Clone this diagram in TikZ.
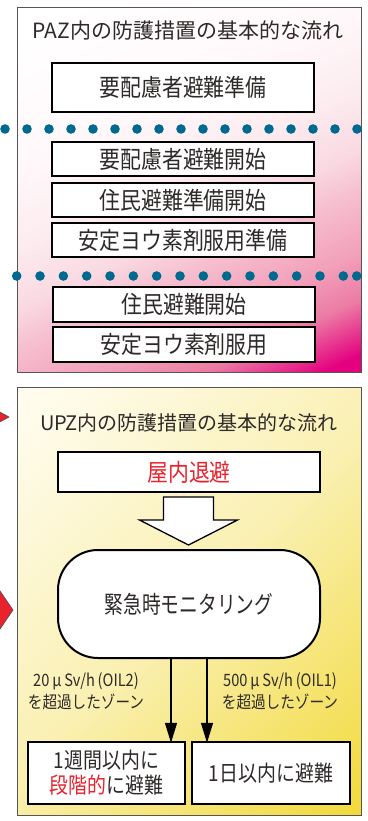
\documentclass[tikz,border=0pt]{standalone}
\usepackage{fontspec}
\newfontfamily\jp{Noto Sans CJK JP}
\newfontfamily\jpn[FakeStretch=0.87]{Noto Sans CJK JP}
\newfontfamily\jpm[FakeStretch=0.78]{Noto Sans CJK JP}
\newfontfamily\jpb[FakeStretch=0.86]{Noto Sans CJK JP}
\newfontfamily\jpl[FakeStretch=0.86]{Noto Sans CJK JP}
\usetikzlibrary{arrows.meta}
\definecolor{ink}{HTML}{2E2A29}
\definecolor{frame}{HTML}{555555}
\definecolor{dotblue}{HTML}{00698F}
\definecolor{alert}{HTML}{E8232E}
\definecolor{pazW}{HTML}{FFF8FA}
\definecolor{pazA}{HTML}{FCECF0}
\definecolor{pazL2}{HTML}{F9D9E2}
\definecolor{pazL}{HTML}{F6C0D0}
\definecolor{pazB}{HTML}{F2A0BA}
\definecolor{pazD}{HTML}{EC7BA4}
\definecolor{pazC}{HTML}{E4007F}
\definecolor{upzA}{HTML}{FFFDF2}
\definecolor{upzB}{HTML}{FAF0B2}
\definecolor{upzC}{HTML}{F2DA3C}
\pgfdeclareverticalshading{pazshade}{100bp}{color(0bp)=(pazC); color(19bp)=(pazC); color(26bp)=(pazD); color(32bp)=(pazB); color(40bp)=(pazL); color(45bp)=(pazL2); color(53bp)=(pazA); color(63bp)=(pazW); color(80bp)=(white); color(100bp)=(white)}
\pgfdeclareverticalshading{upzshade}{100bp}{color(0bp)=(upzC); color(15bp)=(upzC); color(50bp)=(upzB); color(85bp)=(upzA); color(100bp)=(upzA)}
\tikzset{
  zone/.style={draw=frame, line width=1pt},
  title/.style={text=ink, inner sep=0pt, font=\jp\fontsize{21pt}{21pt}\selectfont},
  box/.style={draw=black, line width=2.4pt, fill=white, text=ink, inner sep=0pt, minimum width=262pt, font=\jpn\fontsize{24pt}{26pt}\selectfont},
  lowbox/.style={draw=black, line width=2.4pt, fill=white, text=ink, inner sep=0pt, minimum height=62pt, align=center, font=\jpb\fontsize{22pt}{25pt}\selectfont},
  lbl/.style={text=ink, inner sep=0pt, align=center, font=\jpl\fontsize{17pt}{22pt}\selectfont},
  flow/.style={draw=black, line width=1.3pt, -{Triangle[length=20pt,width=12pt]}},
  dot/.style={fill=dotblue},
  pointer/.style={fill=alert, draw=black!70, line width=0.6pt}
}
\begin{document}
\begin{tikzpicture}[x=1pt,y=-1pt]
\useasboundingbox (0,0) rectangle (367,821);
% zones
\shade[shading=pazshade, shading angle=25] (17,8) rectangle (361,372);
\draw[zone] (17,8) rectangle (361,372);
\shade[shading=upzshade, shading angle=45] (17,387) rectangle (361,815);
\draw[zone] (17,387) rectangle (361,815);
% PAZ
\node[title] (pazt) at (188,31) {PAZ内の防護措置の基本的な流れ};
\node[box, minimum height=49pt] (b1) at (183,87.5) {要配慮者避難準備};
\foreach \i in {0,...,16} { \fill[dot] (5+22*\i,129) circle (4.8); }
\node[box, minimum height=34pt] (b2) at (183,159) {要配慮者避難開始};
\node[box, minimum height=34pt] (b3) at (183,200) {住民避難準備開始};
\node[box, minimum height=34pt] (b4) at (183,240) {安定ヨウ素剤服用準備};
\foreach \i in {0,...,14} { \fill[dot] (16.7+23.33*\i,276) circle (4.8); }
\fill[dot] (356.7,276) circle (4.8);
\node[box, minimum height=35pt] (b5) at (184,304.5) {住民避難開始};
\node[box, minimum height=35pt] (b6) at (184,344.5) {安定ヨウ素剤服用};
% UPZ
\node[title, font=\jp\fontsize{20pt}{20pt}\selectfont] (upzt) at (189,423) {UPZ内の防護措置の基本的な流れ};
\node[box, minimum height=40pt, text=alert] (b7) at (189,472) {屋内退避};
\draw[line width=1.3pt, fill=white] (163.5,497) -- (213.5,497) -- (213.5,520) -- (237.5,520) -- (188.5,545) -- (139.5,520) -- (163.5,520) -- cycle;
\node[box, minimum height=108pt, rounded corners=40pt, line width=2pt, font=\jpm\fontsize{24pt}{26pt}\selectfont] (mon) at (189,604) {緊急時モニタリング};
\node[lowbox, minimum width=157pt] (b8) at (106.5,773) {1週間以内に\\{\color{alert}段階的}に避難};
\node[lowbox, minimum width=158pt] (b9) at (271,773) {1日以内に避難};
\coordinate (c1) at (171,0);
\coordinate (c2) at (207,0);
\draw[flow] (c1 |- mon.south) -- ([yshift=-2pt]c1 |- b8.north);
\draw[flow] (c2 |- mon.south) -- ([yshift=-2pt]c2 |- b9.north);
\node[lbl] (l1) at (86,691) {20\,μ\,Sv/h\,(OIL2)\\を超過したゾーン};
\node[lbl] (l2) at (280,691) {500\,μ\,Sv/h\,(OIL1)\\を超過したゾーン};
% pointers at left edge
\draw[pointer] (-2,411) -- (9,417) -- (-2,423) -- cycle;
\draw[pointer] (-2,588) -- (13,610) -- (-2,632) -- cycle;
\end{tikzpicture}
\end{document}
